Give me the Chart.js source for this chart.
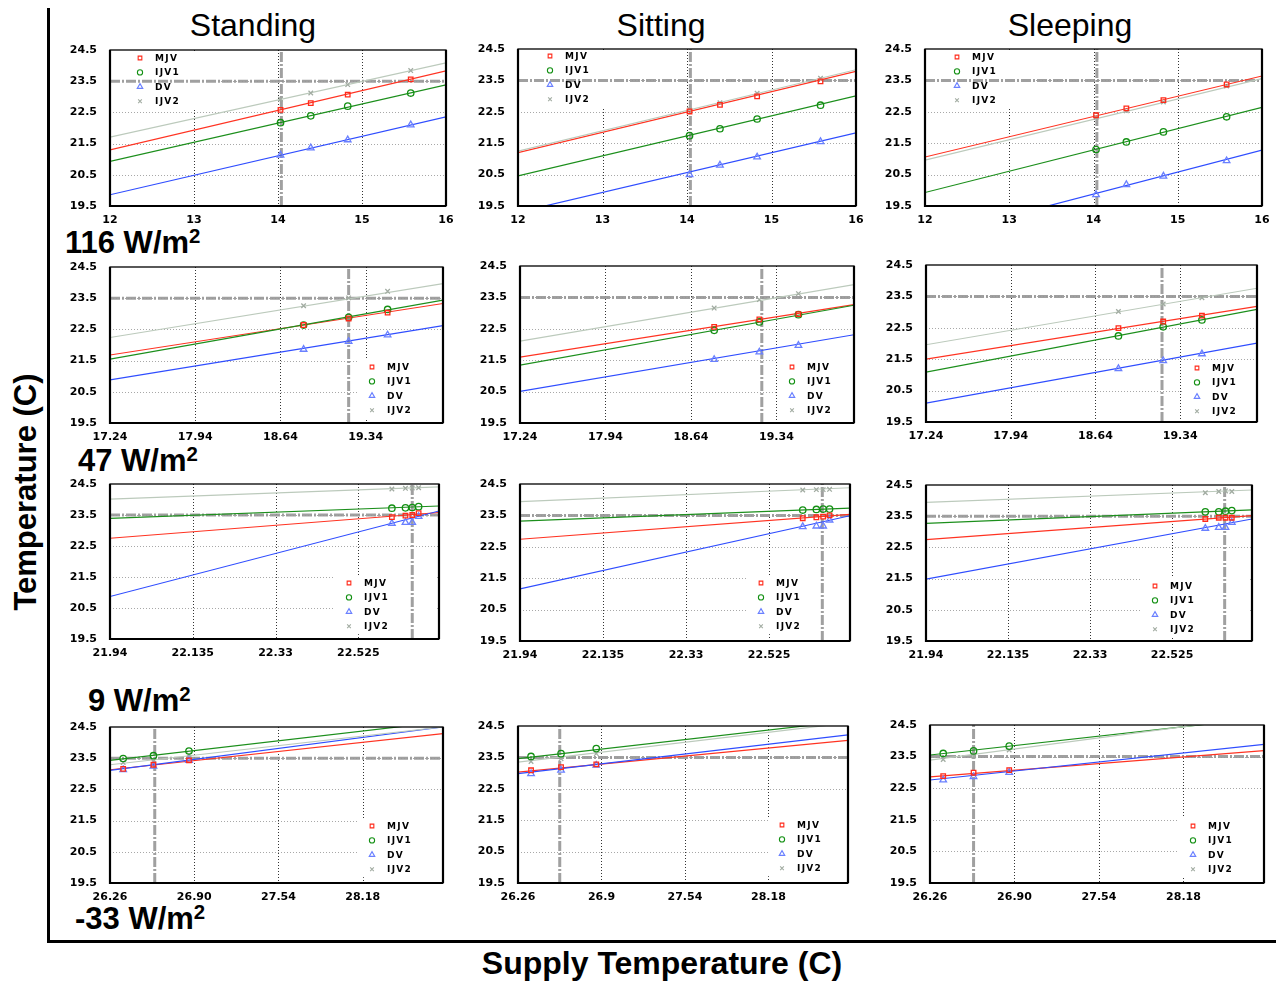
<!DOCTYPE html>
<html><head><meta charset="utf-8">
<script src="https://cdn.jsdelivr.net/npm/chart.js@4.4.1/dist/chart.umd.min.js"></script>
<style>
html,body{margin:0;padding:0;background:#fff;}
body{width:1276px;height:981px;position:relative;overflow:hidden;font-family:'Liberation Sans',Arial,sans-serif;}
.t{position:absolute;white-space:nowrap;line-height:1;color:#000;}
.c{text-align:center;}
.b{font-weight:bold;}
.sup{position:relative;top:-0.48em;font-size:0.66em;}
canvas{position:absolute;}
.frame{position:absolute;background:#000;}
</style></head><body>
<div class="frame" style="left:47px;top:8px;width:3px;height:935px"></div>
<div class="frame" style="left:47px;top:940px;width:1229px;height:3px"></div>

<div class="t c" style="left:153px;top:9px;width:200px;font-size:32px">Standing</div>
<div class="t c" style="left:561px;top:9px;width:200px;font-size:32px">Sitting</div>
<div class="t c" style="left:970px;top:9px;width:200px;font-size:32px">Sleeping</div>

<div class="t b" style="left:65px;top:227px;font-size:31px">116 W/m<span class="sup">2</span></div>
<div class="t b" style="left:78px;top:445px;font-size:31px">47 W/m<span class="sup">2</span></div>
<div class="t b" style="left:88px;top:685px;font-size:31px">9 W/m<span class="sup">2</span></div>
<div class="t b" style="left:75px;top:903px;font-size:31px">-33 W/m<span class="sup">2</span></div>

<div class="t b" style="left:25px;top:492px;font-size:31px;transform:translate(-50%,-50%) rotate(-90deg)">Temperature (C)</div>
<div class="t b" style="left:662px;top:963px;font-size:32px;transform:translate(-50%,-50%)">Supply Temperature (C)</div>

<script>
// ---------- DATA ----------
const seriesNames = ['MJV', 'IJV1', 'DV', 'IJV2'];
const yTicks = [19.5, 20.5, 21.5, 22.5, 23.5, 24.5];
const setpoint = 23.5;

// 116 W/m2
const x116 = [14.03, 14.39, 14.83, 15.58];
const xRange116 = [12, 16];
const xTicks116 = [12, 13, 14, 15, 16];
const xLabels116 = ['12', '13', '14', '15', '16'];
const standing116 = [[22.58, 22.80, 23.07, 23.56], [22.17, 22.39, 22.70, 23.12], [21.13, 21.36, 21.62, 22.10], [22.92, 23.12, 23.39, 23.84]];
const standing116Fit = [[21.30, 23.83], [20.93, 23.38], [19.86, 22.36], [21.71, 24.09]];
const sitting116 = [[22.51, 22.72, 22.99, 23.47], [21.74, 21.96, 22.27, 22.71], [20.50, 20.80, 21.06, 21.55], [22.58, 22.79, 23.09, 23.57]];
const sitting116Fit = [[21.20, 23.79], [20.46, 23.01], [19.30, 21.83], [21.25, 23.84]];
const sleeping116 = [[22.39, 22.61, 22.87, 23.37], [21.30, 21.54, 21.86, 22.34], [19.86, 20.18, 20.45, 20.94], [22.32, 22.53, 22.81, 23.32]];
const sleeping116Fit = [[21.06, 23.64], [19.93, 22.64], [18.48, 21.28], [20.96, 23.56]];
const ref116 = [14.04, 14.04, 14.04];

// 47 W/m2
const x47 = [18.83, 19.20, 19.52];
const xRange47 = [17.24, 19.975];
const xTicks47 = [17.24, 17.94, 18.64, 19.34];
const xLabels47 = ['17.24', '17.94', '18.64', '19.34'];
const standing47 = [[22.64, 22.85, 23.04], [22.64, 22.89, 23.14], [21.86, 22.11, 22.32], [23.26, 23.51, 23.72]];
const standing47Fit = [[21.68, 23.33], [21.55, 23.44], [20.88, 22.62], [22.24, 23.97]];
const sitting47 = [[22.56, 22.80, 22.97], [22.45, 22.72, 22.95], [21.52, 21.76, 21.97], [23.16, 23.43, 23.62]];
const sitting47Fit = [[21.60, 23.27], [21.34, 23.25], [20.51, 22.31], [22.11, 23.91]];
const sleeping47 = [[22.49, 22.70, 22.89], [22.24, 22.53, 22.75], [21.20, 21.45, 21.67], [23.02, 23.26, 23.46]];
const sleeping47Fit = [[21.50, 23.18], [21.09, 23.09], [20.10, 22.01], [21.96, 23.76]];
const ref47 = [19.20, 19.22, 19.19];

// 9 W/m2
const x9 = [22.604, 22.636, 22.652, 22.667];
const xRange9 = [21.94, 22.715];
const xTicks9 = [21.94, 22.135, 22.33, 22.525];
const xLabels9 = ['21.94', '22.135', '22.33', '22.525'];
const standing9 = [[23.43, 23.48, 23.50, 23.56], [23.72, 23.73, 23.74, 23.77], [23.23, 23.26, 23.26, 23.45], [24.34, 24.36, 24.37, 24.38]];
const standing9Fit = [[22.75, 23.58], [23.39, 23.79], [20.87, 23.63], [24.01, 24.41]];
const sitting9 = [[23.41, 23.44, 23.46, 23.50], [23.67, 23.69, 23.70, 23.70], [23.14, 23.16, 23.16, 23.35], [24.31, 24.32, 24.32, 24.33]];
const sitting9Fit = [[22.74, 23.53], [23.32, 23.73], [21.16, 23.49], [23.94, 24.38]];
const sleeping9 = [[23.41, 23.45, 23.45, 23.45], [23.64, 23.64, 23.66, 23.68], [23.11, 23.14, 23.14, 23.30], [24.25, 24.29, 24.31, 24.29]];
const sleeping9Fit = [[22.75, 23.52], [23.27, 23.70], [21.48, 23.41], [23.94, 24.34]];
const ref9 = [22.652, 22.65, 22.65];

// -33 W/m2
const xm33 = [26.36, 26.59, 26.86];
const xRangem33 = [26.26, 28.79];
const xTicksm33 = [26.26, 26.90, 27.54, 28.18];
const xLabelsm33 = ['26.26', '26.90', '27.54', '28.18'];
const xLabelsm33Sit = ['26.26', '26.9', '27.54', '28.18'];
const standingm33 = [[23.16, 23.29, 23.43], [23.49, 23.58, 23.73], [23.13, 23.24, 23.43], [23.36, 23.40, 23.61]];
const standingm33Fit = [[23.13, 24.29], [23.43, 24.67], [23.11, 24.50], [23.29, 24.50]];
const sittingm33 = [[23.09, 23.19, 23.28], [23.53, 23.62, 23.78], [22.98, 23.09, 23.25], [23.37, 23.46, 23.62]];
const sittingm33Fit = [[23.03, 24.04], [23.46, 24.66], [22.98, 24.22], [23.35, 24.60]];
const sleepingm33 = [[22.88, 22.99, 23.07], [23.60, 23.68, 23.83], [22.76, 22.86, 23.00], [23.41, 23.52, 23.71]];
const sleepingm33Fit = [[22.86, 23.69], [23.55, 24.73], [22.76, 23.89], [23.39, 24.78]];
const refm33 = [26.60, 26.58, 26.59];

// ---------- LAYOUT (pixel placement only) ----------
const rects = [
  [110, 50, 446, 206], [518, 49, 856, 206], [925, 49, 1262, 206],
  [110, 267, 443, 423], [520, 266, 854, 423], [926, 265, 1257, 422],
  [110, 484, 439, 639], [520, 484, 850, 641], [926, 485, 1252, 641],
  [110, 727, 443, 883], [518, 726, 848, 883], [930, 725, 1264, 883]
];
// legend: [anchor 'tl' or 'r', dx, dy]
const legendPos = [
  ['tl', 30, 8], ['tl', 32, 7], ['tl', 32, 8],
  ['r', 71, 100], ['r', 62, 101], ['r', 60, 103],
  ['r', 90, 99], ['r', 89, 99], ['r', 97, 101],
  ['r', 71, 99], ['r', 66, 99], ['r', 71, 101]
];

const markerStyle = ['rect', 'circle', 'triangle', 'crossRot'];
const markerRadius = [3.2, 3.2, 3.8, 3.2];
const markerColor = ['#ff2a1a', '#139013', '#6a80ff', '#a2aca2'];
const lineColor = ['#ff3322', '#1c8f1c', '#2f4dff', '#bccabc'];

const panels = [
  [x116, xRange116, xTicks116, xLabels116, standing116, standing116Fit, ref116[0]],
  [x116, xRange116, xTicks116, xLabels116, sitting116, sitting116Fit, ref116[1]],
  [x116, xRange116, xTicks116, xLabels116, sleeping116, sleeping116Fit, ref116[2]],
  [x47, xRange47, xTicks47, xLabels47, standing47, standing47Fit, ref47[0]],
  [x47, xRange47, xTicks47, xLabels47, sitting47, sitting47Fit, ref47[1]],
  [x47, xRange47, xTicks47, xLabels47, sleeping47, sleeping47Fit, ref47[2]],
  [x9, xRange9, xTicks9, xLabels9, standing9, standing9Fit, ref9[0]],
  [x9, xRange9, xTicks9, xLabels9, sitting9, sitting9Fit, ref9[1]],
  [x9, xRange9, xTicks9, xLabels9, sleeping9, sleeping9Fit, ref9[2]],
  [xm33, xRangem33, xTicksm33, xLabelsm33, standingm33, standingm33Fit, refm33[0]],
  [xm33, xRangem33, xTicksm33, xLabelsm33Sit, sittingm33, sittingm33Fit, refm33[1]],
  [xm33, xRangem33, xTicksm33, xLabelsm33, sleepingm33, sleepingm33Fit, refm33[2]]
];

const tickFont = {family: 'DejaVu Sans', weight: 'bold', size: 11};

function makeChart(idx) {
  const [xs, xr, xt, xl, vals, fits, vref] = panels[idx];
  const [L, T, R, B] = rects[idx];
  const lp = legendPos[idx];
  const padL = 55, padT = 10, padR = 24, padB = 26;
  const w = (R - L) + padL + padR, h = (B - T) + padT + padB;
  const cv = document.createElement('canvas');
  cv.width = w; cv.height = h;
  cv.style.left = (L - padL) + 'px'; cv.style.top = (T - padT) + 'px';
  cv.style.width = w + 'px'; cv.style.height = h + 'px';
  document.body.appendChild(cv);

  const datasets = [];
  datasets.push({data: [{x: xr[0], y: setpoint}, {x: xr[1], y: setpoint}], showLine: true, pointRadius: 0,
    borderColor: 'rgba(150,150,150,0.9)', borderWidth: 3, borderDash: [10, 2, 2, 2], order: 10});
  datasets.push({data: [{x: vref, y: yTicks[0]}, {x: vref, y: yTicks[yTicks.length - 1]}], showLine: true, pointRadius: 0,
    borderColor: 'rgba(150,150,150,0.9)', borderWidth: 3, borderDash: [10, 2, 2, 2], order: 9});
  for (let s = 0; s < 4; s++) {
    datasets.push({data: [{x: xr[0], y: fits[s][0]}, {x: xr[1], y: fits[s][1]}], showLine: true, pointRadius: 0,
      borderColor: lineColor[s], borderWidth: 1.2, order: 5 - s});
  }
  for (let s = 0; s < 4; s++) {
    datasets.push({label: seriesNames[s], data: xs.map((x, i) => ({x: x, y: vals[s][i]})), showLine: false,
      pointStyle: markerStyle[s], pointRadius: markerRadius[s], pointBorderColor: markerColor[s],
      pointBackgroundColor: 'rgba(0,0,0,0)', pointBorderWidth: 1.3, order: 0});
  }

  const deco = {
    id: 'deco' + idx,
    beforeDatasetsDraw(chart) {
      const ctx = chart.ctx, a = chart.chartArea, x = chart.scales.x, y = chart.scales.y;
      ctx.save();
      ctx.lineWidth = 1;
      ctx.setLineDash([1, 2]);
      ctx.strokeStyle = '#a8a8a8';
      yTicks.forEach(v => {
        if (v <= y.min || v >= y.max) return;
        const py = Math.round(y.getPixelForValue(v)) + 0.5;
        ctx.beginPath(); ctx.moveTo(a.left, py); ctx.lineTo(a.right, py); ctx.stroke();
      });
      ctx.strokeStyle = '#333';
      xt.forEach(v => {
        if (v <= x.min || v >= x.max) return;
        const px = Math.round(x.getPixelForValue(v)) + 0.5;
        ctx.beginPath(); ctx.moveTo(px, a.top); ctx.lineTo(px, a.bottom); ctx.stroke();
      });
      ctx.setLineDash([]);
      ctx.fillStyle = '#fff';
      const lx = lp[0] === 'tl' ? a.left + lp[1] : a.right - lp[1];
      const ly = a.top + lp[2];
      if (lp[0] === 'tl') ctx.fillRect(a.left + 1, a.top + 1, 110, 57);
      else ctx.fillRect(lx - 14, ly - 8, a.right - (lx - 14) - 2, 3 * 14.4 + 16);
      ctx.restore();
    },
    afterDatasetsDraw(chart) {
      const ctx = chart.ctx, a = chart.chartArea;
      ctx.save();
      ctx.strokeStyle = '#000';
      ctx.lineWidth = 1.3;
      ctx.strokeRect(a.left, a.top, a.right - a.left, a.bottom - a.top);
      ctx.lineWidth = 2.2;
      ctx.beginPath();
      ctx.moveTo(a.left, a.top); ctx.lineTo(a.left, a.bottom); ctx.lineTo(a.right, a.bottom);
      ctx.moveTo(a.right, a.top); ctx.lineTo(a.right, a.bottom);
      ctx.stroke();
      const lx = lp[0] === 'tl' ? a.left + lp[1] : a.right - lp[1];
      const ly = a.top + lp[2];
      ctx.font = 'bold 9px "DejaVu Sans"';
      try { ctx.letterSpacing = '1.3px'; } catch (e) {}
      ctx.textBaseline = 'middle';
      ctx.textAlign = 'left';
      for (let s = 0; s < 4; s++) {
        const yy = ly + s * 14.4;
        ctx.strokeStyle = markerColor[s];
        ctx.fillStyle = 'rgba(0,0,0,0)';
        ctx.lineWidth = 1.1;
        Chart.helpers.drawPoint(ctx, {pointStyle: markerStyle[s], radius: s === 2 ? 3.2 : 2.6, borderWidth: 1.1, rotation: 0}, lx, yy);
        ctx.fillStyle = '#000';
        ctx.fillText(seriesNames[s], lx + 15, yy + 0.5);
      }
      ctx.restore();
    }
  };

  new Chart(cv, {
    type: 'scatter',
    data: {datasets: datasets},
    options: {
      responsive: false, animation: false, events: [],
      layout: {padding: {left: 0, top: padT, right: padR, bottom: 0}},
      plugins: {legend: {display: false}, tooltip: {enabled: false}},
      elements: {line: {tension: 0}},
      scales: {
        x: {type: 'linear', min: xr[0], max: xr[1],
          afterBuildTicks: sc => { sc.ticks = xt.map(v => ({value: v})); },
          afterFit: sc => { sc.height = padB; sc.paddingLeft = 0; sc.paddingRight = 0; sc.paddingTop = 0; sc.paddingBottom = 0; },
          grid: {display: false, drawTicks: false}, border: {display: false},
          ticks: {autoSkip: false, maxRotation: 0, minRotation: 0, padding: 8, color: '#000', font: tickFont,
            callback: (v, i) => xl[i]}},
        y: {type: 'linear', min: yTicks[0], max: yTicks[yTicks.length - 1],
          afterBuildTicks: sc => { sc.ticks = yTicks.map(v => ({value: v})); },
          afterFit: sc => { sc.width = padL; sc.paddingTop = 0; sc.paddingBottom = 0; sc.paddingLeft = 0; sc.paddingRight = 0; },
          grid: {display: false, drawTicks: false}, border: {display: false},
          ticks: {autoSkip: false, padding: 13, color: '#000', font: tickFont,
            callback: v => Number(v).toFixed(1)}}
      }
    },
    plugins: [deco]
  });
}

for (let i = 0; i < panels.length; i++) makeChart(i);
</script>
</body></html>
